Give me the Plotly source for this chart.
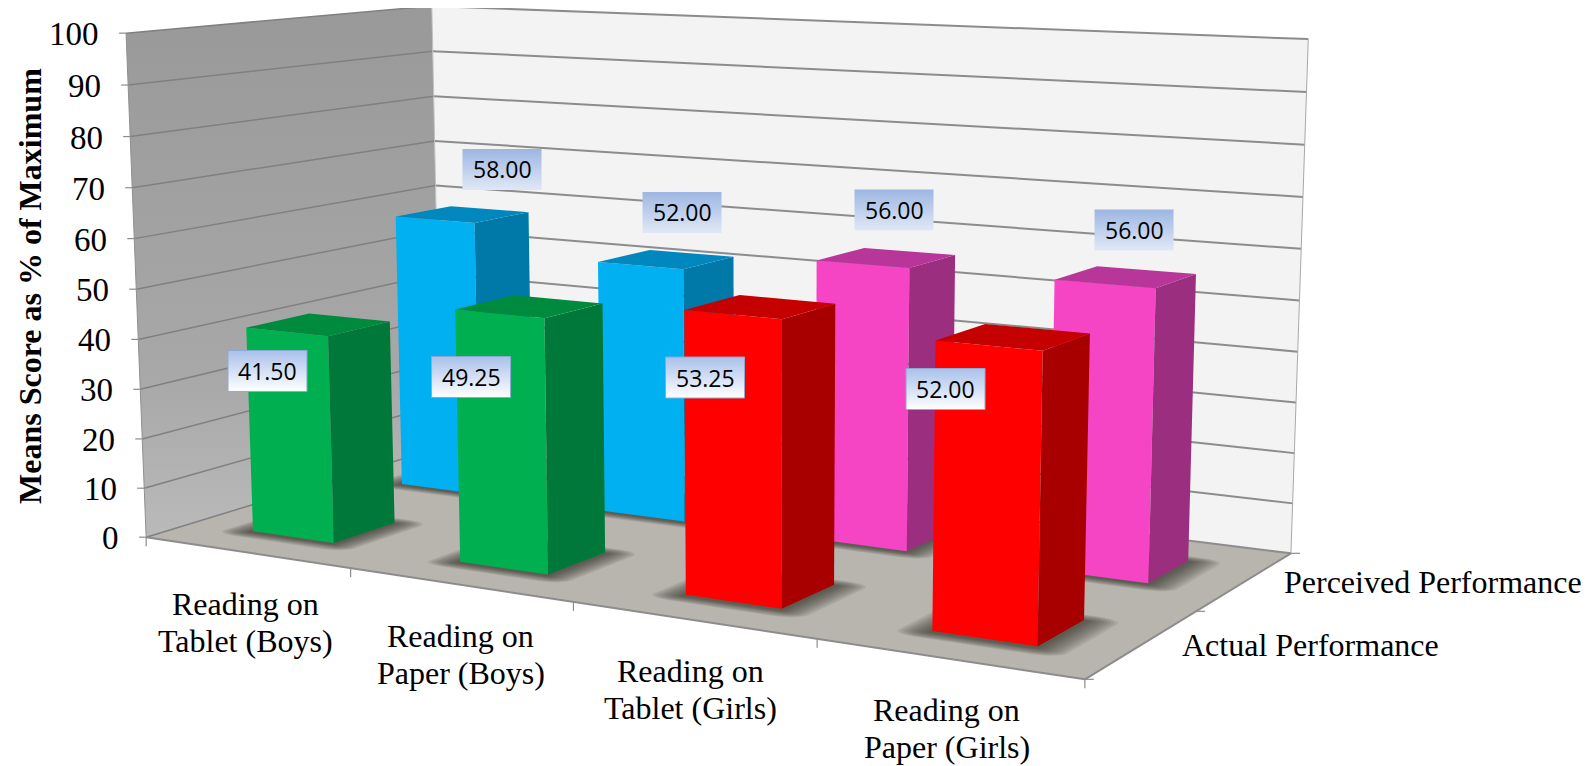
import numpy as np
import plotly.graph_objects as go

# ---- data ----
categories = [["Reading on", "Tablet (Boys)"], ["Reading on", "Paper (Boys)"], ["Reading on", "Tablet (Girls)"], ["Reading on", "Paper (Girls)"]]
series_names = ["Actual Performance", "Perceived Performance"]
actual = [41.50, 49.25, 53.25, 52.00]
perceived = [58.00, 52.00, 56.00, 56.00]
z_ticks = [0, 10, 20, 30, 40, 50, 60, 70, 80, 90, 100]
y_title = "Means Score as % of Maximum"

# ---- styling ----
actual_styles = [("#00B050", "#00783A", "#008A3E"), ("#00B050", "#00783A", "#008A3E"),
                 ("#FF0000", "#A80000", "#C40000"), ("#FF0000", "#A80000", "#C40000")]
perceived_styles = [("#00B0F0", "#0078A8", "#0088BE"), ("#00B0F0", "#0078A8", "#0088BE"),
                    ("#F545C5", "#9C2E80", "#B8359A"), ("#F545C5", "#9C2E80", "#B8359A")]
SERIF = "Liberation Serif"
BOX_W, BOX_H = 79, 41
label_nudge_front = [(-51.0, 46.4), (-58.3, 70.6), (-55.3, 70.7), (-67.7, 52.0)]
label_nudge_back = [(39.5, -44.9), (15.9, -46.9), (7.7, -47.7), (8.3, -47.0)]
category_nudge = [-1, 1, -2, -1]
BODY = 8  # the page's default body margin

# ---- projection of the 3D chart space on to the page, fitted on the box corners ----
calib = [((0, 0, 0), (145.7, 537.3)), ((4, 0, 0), (1085, 679)), ((4, 2, 0), (1290.7, 553.7)),
         ((0, 2, 0), (441.5, 447)), ((0, 0, 100), (126.4, 33.3)), ((0, 2, 100), (431.4, 6)),
         ((4, 2, 100), (1308.4, 39))]
A, b = [], []
for (u, v, z), (x, y) in calib:
    A.append([u, v, z, 1, 0, 0, 0, 0, -x*u, -x*v, -x*z]); b.append(x)
    A.append([0, 0, 0, 0, u, v, z, 1, -y*u, -y*v, -y*z]); b.append(y)
P = np.append(np.linalg.lstsq(np.array(A, float), np.array(b, float), rcond=None)[0], 1).reshape(3, 4)


def pr(u, v, z):
    h = P @ np.array([u, v, z, 1.0])
    return float(h[0] / h[2]), float(h[1] / h[2])


fig = go.Figure()


def poly(pts, color=None, line=None, width=0, grad=None):
    xs = [p[0] for p in pts] + [pts[0][0]]
    ys = [p[1] for p in pts] + [pts[0][1]]
    kw = dict(x=xs, y=ys, mode="lines", fill="toself", hoverinfo="skip", showlegend=False,
              line=dict(width=width, color=line or "rgba(0,0,0,0)"))
    if grad:
        kw["fillgradient"] = dict(type="vertical", colorscale=grad)
    else:
        kw["fillcolor"] = color
    fig.add_trace(go.Scatter(**kw))


def seg(a, b, color, width):
    fig.add_trace(go.Scatter(x=[a[0], b[0]], y=[a[1], b[1]], mode="lines", hoverinfo="skip",
                             showlegend=False, line=dict(color=color, width=width)))


# walls and floor
poly([pr(0, 0, 0), pr(0, 2, 0), pr(0, 2, 100), pr(0, 0, 100)],
     grad=[[0, "#BABABA"], [0.3, "#A8A8A8"], [1, "#999999"]])
poly([pr(0, 2, 0), pr(4, 2, 0), pr(4, 2, 100), pr(0, 2, 100)], color="#F3F3F3")
poly([pr(0, 0, 0), pr(4, 0, 0), pr(4, 2, 0), pr(0, 2, 0)], color="#B8B5AE")

# gridlines
for t in z_ticks:
    seg(pr(0, 0, t), pr(0, 2, t), "#808080", 1.5)
    seg(pr(0, 2, t), pr(4, 2, t), "#8C8C8C", 2)
    seg(pr(0, 0, t), (pr(0, 0, t)[0] - 7, pr(0, 0, t)[1]), "#8C8C8C", 1.2)
    fig.add_annotation(x=pr(0, 0, t)[0] - 25, y=pr(0, 0, t)[1] + 1, text=str(t), showarrow=False,
                       xanchor="right", yanchor="middle", font=dict(family=SERIF, size=33, color="black"))
seg(pr(0, 0, 0), pr(0, 0, 100), "#909090", 1)
seg(pr(0, 2, 0), pr(0, 2, 100), "#C0C0C0", 1)
seg(pr(4, 2, 0), pr(4, 2, 100), "#A8A8A8", 1)

# floor edges and ticks
seg(pr(0, 0, 0), pr(4, 0, 0), "#8C8C8C", 2)
seg(pr(4, 0, 0), pr(4, 2, 0), "#8C8C8C", 2)
for u in range(5):
    seg(pr(u, 0, 0), (pr(u, 0, 0)[0], pr(u, 0, 0)[1] + 9), "#8C8C8C", 1.2)
for v in range(3):
    seg(pr(4, v, 0), (pr(4, v, 0)[0] + 9, pr(4, v, 0)[1]), "#8C8C8C", 1.2)


def shadow(u0, v0):
    for g in np.linspace(0.12, 0.01, 10):
        gu, gv = g, g * 0.7
        cu, cv = u0 + .5, v0 + .49
        hu, hv = .2 + gu - gu * .8, .2 + gv - gv * .8
        pts = []
        for sx, sy, a0 in [(1, 1, 0), (-1, 1, 90), (-1, -1, 180), (1, -1, 270)]:
            for a in np.radians(np.linspace(a0, a0 + 90, 7)):
                pts.append(pr(cu + sx * hu + np.cos(a) * gu * .8 + 0.005,
                              cv + sy * hv + np.sin(a) * gv * .8 - 0.015, 0))
        poly(pts, color="rgba(50,45,40,0.10)")


def bar(u0, v0, val, st):
    front, side, top = st
    a, c, d, e = u0 + .3, u0 + .7, v0 + .29, v0 + .69
    poly([pr(a, d, 0), pr(c, d, 0), pr(c, d, val), pr(a, d, val)], color=front)
    poly([pr(c, d, 0), pr(c, e, 0), pr(c, e, val), pr(c, d, val)], color=side)
    poly([pr(a, d, val), pr(c, d, val), pr(c, e, val), pr(a, e, val)], color=top)


for v0, vals, sts in [(1, perceived, perceived_styles), (0, actual, actual_styles)]:
    for i in range(4):
        shadow(i, v0)
    for i in range(4):
        bar(i, v0, vals[i], sts[i])


# data labels
def label(u, v, val, nudge, grad, border):
    x, y = pr(u, v, val)
    cx, cy = x + nudge[0], y + nudge[1]
    poly([(cx - BOX_W/2, cy - BOX_H/2), (cx + BOX_W/2, cy - BOX_H/2), (cx + BOX_W/2, cy + BOX_H/2), (cx - BOX_W/2, cy + BOX_H/2)],
         grad=grad, line=border, width=1 if border else 0)
    fig.add_annotation(x=cx, y=cy, text=f"{val:.2f}", showarrow=False, xanchor="center", yanchor="middle",
                       font=dict(family="Open Sans", size=23, color="black"))


for i in range(4):
    label(i + .5, 1.49, perceived[i], label_nudge_back[i], [[0, "#E0E8F6"], [1, "#9DB6E2"]], None)
for i in range(4):
    label(i + .5, .49, actual[i], label_nudge_front[i], [[0, "#FFFFFF"], [1, "#A9C0EA"]], "#8FA9CE")

# axis texts
for i, lines in enumerate(categories):
    x, y = pr(i + .5, 0, 0)
    for j, c in enumerate(lines):
        fig.add_annotation(x=x + category_nudge[i], y=y + 70 + (j - .5) * 37, text=c, showarrow=False,
                           xanchor="center", yanchor="middle",
                           font=dict(family=SERIF, size=32, color="black"))
for k, s in enumerate(series_names):
    x, y = pr(4, k + .5, 0)
    fig.add_annotation(x=x + 37, y=y + 1, text=s, showarrow=False, xanchor="left", yanchor="middle",
                       font=dict(family=SERIF, size=32, color="black"))
fig.add_annotation(x=30, y=286, text=f"<b>{y_title}</b>", textangle=-90, showarrow=False, xanchor="center",
                   yanchor="middle", font=dict(family=SERIF, size=32, color="black"))

fig.update_layout(width=1592 - BODY, height=766 - BODY, autosize=False, margin=dict(l=0, r=0, t=0, b=0),
                  paper_bgcolor="white", plot_bgcolor="white", showlegend=False,
                  xaxis=dict(range=[BODY, 1592], visible=False, fixedrange=True),
                  yaxis=dict(range=[766, BODY], visible=False, fixedrange=True))
fig.write_html("out.html")
